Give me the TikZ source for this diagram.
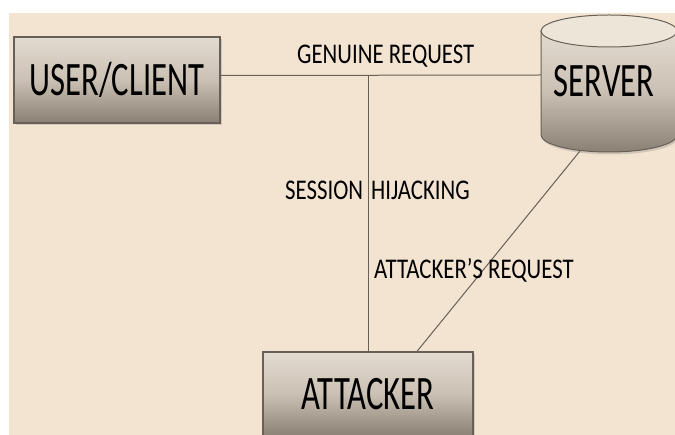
\documentclass[tikz,border=0pt]{standalone}
\usepackage{fontspec}
\newfontfamily\boxfont[FakeStretch=0.68]{Carlito}
\newfontfamily\linkfont[FakeStretch=0.8]{Carlito}
\usetikzlibrary{shadows}

\definecolor{paper}{RGB}{243,228,209}
\definecolor{boxtop}{RGB}{228,219,208}
\definecolor{boxmid}{RGB}{202,192,180}
\definecolor{boxbot}{RGB}{138,128,116}
\definecolor{edge}{RGB}{104,96,86}
\definecolor{capfill}{RGB}{238,229,217}

\begin{document}
\begin{tikzpicture}[x=1pt,y=-1pt,
  entity/.style={draw=edge, line width=1.2pt, top color=boxtop, bottom color=boxbot, middle color=boxmid,
    drop shadow={opacity=0.3, shadow xshift=1.5pt, shadow yshift=-2.5pt},
    inner sep=0pt, font=\boxfont\fontsize{48}{50}\selectfont},
  link/.style={draw=edge, line width=1pt},
  tag/.style={anchor=base west, inner sep=0pt, font=\linkfont\fontsize{28.5}{30}\selectfont}]
\useasboundingbox (0,0) rectangle (675,435);
\fill[white] (0,0) rectangle (675,435);
\fill[paper] (9,13) rectangle (675,435);

% boxes
\node[entity, minimum width=206pt, minimum height=86pt] (user) at (117,80) {USER/CLIENT};
\node[entity, minimum width=210pt, minimum height=84pt] (attacker) at (368,394) {ATTACKER};

% where the lines meet the server
\coordinate (srvside) at (541,75);
\coordinate (srvfoot) at (580,151);

\draw[link] ([yshift=4.5pt]user.east) -- (srvside);
\draw[link] (attacker.north) -- (attacker.north |- srvside);
\draw[link] (srvfoot) -- ([xshift=49pt]attacker.north);

% server cylinder
\shade[top color=boxtop, bottom color=boxbot, middle color=boxmid,
  drop shadow={opacity=0.3, shadow xshift=1.5pt, shadow yshift=-2.5pt}]
  (541,31) -- (541,135) arc[start angle=180, end angle=0, x radius=68, y radius=17] -- (677,31) -- cycle;
\draw[edge, line width=1pt] (541,31) -- (541,135) arc[start angle=180, end angle=0, x radius=68, y radius=17] -- (677,31);
\filldraw[fill=capfill, draw=edge, line width=1pt] (609,31) ellipse[x radius=68, y radius=16];
\node[inner sep=0pt, font=\boxfont\fontsize{48}{50}\selectfont] (server) at (604,81) {SERVER};

% labels
\node[tag] (genuine) at (297,64) {GENUINE REQUEST};
\node[tag] (hijack) at (285,200) {SESSION\hspace{8pt}HIJACKING};
\node[tag] (attreq) at (374,279) {ATTACKER’S REQUEST};
\end{tikzpicture}
\end{document}
